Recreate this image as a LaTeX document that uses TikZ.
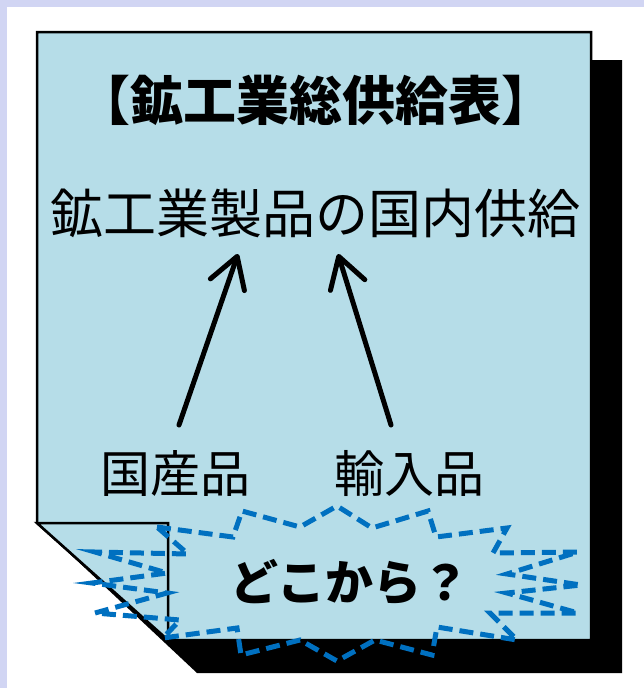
\documentclass[tikz,border=0pt]{standalone}
\usepackage{fontspec}
\newfontfamily\jp{Noto Sans CJK JP}
\usetikzlibrary{arrows.meta}
\definecolor{boxblue}{HTML}{B6DDE8}
\definecolor{starblue}{HTML}{0070C0}
\definecolor{bgl}{HTML}{D1D5F3}
\begin{document}
\begin{tikzpicture}[x=1pt,y=-1pt,
  paper/.style={fill=boxblue,draw=black,line width=2.5pt,line join=miter},
  burst/.style={draw=starblue,line width=5pt,dash pattern=on 14pt off 7pt,line join=miter},
  lbl/.style={inner sep=0pt,anchor=base},
  arr/.style={line width=5pt,line cap=round,-{Straight Barb[length=30pt,width=36pt,line cap=round,line join=round]}}]
\useasboundingbox (0,0) rectangle (644,688);
\fill[white] (0,0) rectangle (644,688);
\fill[bgl] (0,0) rectangle (644,7.3);
\fill[bgl] (0,0) rectangle (7,688);
% shadow
\fill[black] (37,523) -- (197,673) -- (622,673) -- (622,60) -- (300,60) -- cycle;
% paper
\path[paper] (37,32) -- (591,32) -- (591,640) -- (168,640) -- (37,523) -- cycle;
% folded corner
\path[paper] (37,523) -- (168,523) -- (168,640) -- cycle;
% texts
\node[lbl,font={\jp\bfseries\fontsize{53}{60}\selectfont}] (title) at (316,120) {【鉱工業総供給表】};
\node[lbl,font={\jp\fontsize{53}{60}\selectfont}] (supply) at (315,233) {鉱工業製品の国内供給};
\node[lbl,font={\jp\fontsize{50}{56}\selectfont}] (dom) at (175,492) {国産品};
\node[lbl,font={\jp\fontsize{50}{56}\selectfont}] (imp) at (409,492) {輸入品};
% arrows
\coordinate (d1) at (179,425);
\coordinate (s1) at (238,254);
\coordinate (d2) at (391,425);
\coordinate (s2) at (338,254);
\draw[arr] (d1) -- (s1);
\draw[arr] (d2) -- (s2);
% burst
\path[burst] (157,527) -- (233,537) -- (242,511) -- (300,527) -- (337,506) -- (372,528) -- (428,511) -- (436,537) -- (507,528) -- (493,553) -- (578,552) -- (507,574) -- (581,585) -- (507,593) -- (578,613) -- (490,613) -- (517,640) -- (437,627) -- (432,655) -- (375,640) -- (337,661) -- (300,640) -- (241,655) -- (237,628) -- (163,638) -- (180,620) -- (95,613) -- (167,593) -- (92,583) -- (167,573) -- (95,552) -- (188,554) -- cycle;
\node[lbl,font={\jp\bfseries\fontsize{48}{56}\selectfont}] (where) at (350,600) {どこから？};
\end{tikzpicture}
\end{document}
